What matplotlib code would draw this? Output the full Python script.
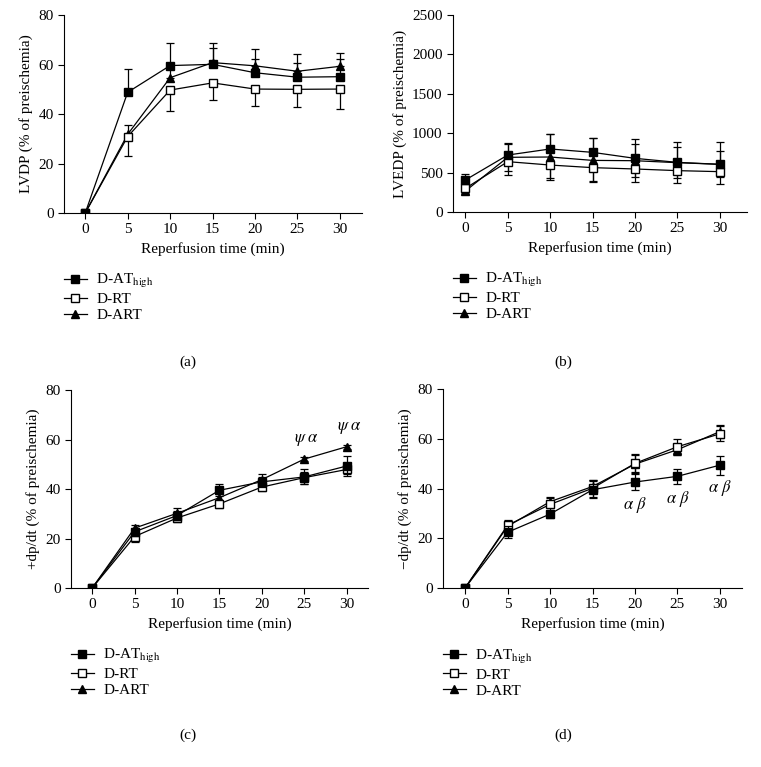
import matplotlib
matplotlib.use('Agg')
import matplotlib.pyplot as plt
from matplotlib.lines import Line2D

plt.rcParams['font.family'] = ['Liberation Serif', 'DejaVu Serif']
plt.rcParams['mathtext.fontset'] = 'stix'
plt.rcParams['font.size'] = 11

time = [0, 5, 10, 15, 20, 25, 30]
groups = ['D-AT$_{\\mathrm{high}}$', 'D-RT', 'D-ART']

# (a) LVDP
lvdp_at = [0, 48.8, 59.6, 60.1, 56.7, 54.9, 55.1]
lvdp_at_err = [0, 9.4, 9.0, 8.8, 5.6, 5.6, 7.0]
lvdp_rt = [0, 30.9, 49.7, 52.6, 50.1, 50.0, 50.1]
lvdp_rt_err = [0, 7.9, 8.3, 6.9, 7.0, 7.1, 8.2]
lvdp_art = [0, 31.8, 54.7, 60.8, 59.5, 57.3, 59.3]
lvdp_art_err = [0, 3.8, 4.0, 5.8, 6.7, 7.0, 5.5]

# (b) LVEDP
lvedp_at = [406, 723, 800, 757, 681, 630, 605]
lvedp_at_err = [76, 148, 190, 180, 245, 254, 279]
lvedp_rt = [300, 639, 596, 563, 546, 525, 512]
lvedp_rt_err = [60, 169, 160, 170, 161, 161, 157]
lvedp_art = [266, 694, 698, 655, 651, 626, 605]
lvedp_art_err = [40, 170, 290, 280, 212, 194, 165]

# (c) +dp/dt
pdp_at = [0, 22.7, 29.3, 39.5, 42.9, 44.9, 49.3]
pdp_at_err = [0, 1.5, 2.0, 2.4, 2.0, 3.0, 4.0]
pdp_rt = [0, 20.8, 28.3, 34.0, 40.8, 44.6, 47.9]
pdp_rt_err = [0, 2.4, 1.8, 1.5, 1.5, 2.4, 2.0]
pdp_art = [0, 24.2, 30.2, 36.5, 43.8, 52.1, 57.1]
pdp_art_err = [0, 1.2, 2.2, 1.5, 2.1, 0.8, 0.8]

# (d) -dp/dt
ndp_at = [0, 22.4, 29.7, 39.5, 42.6, 44.9, 49.4]
ndp_at_err = [0, 2.5, 1.5, 3.5, 3.2, 3.0, 3.8]
ndp_rt = [0, 25.2, 33.6, 40.1, 50.1, 56.8, 62.0]
ndp_rt_err = [0, 2.3, 2.5, 3.5, 3.6, 3.2, 3.0]
ndp_art = [0, 24.8, 34.7, 40.8, 49.8, 55.6, 62.9]
ndp_art_err = [0, 2.0, 1.8, 2.5, 3.5, 2.0, 2.5]

styles = [
    dict(marker='s', mfc='black', mec='black', ms=6),
    dict(marker='s', mfc='white', mec='black', ms=6),
    dict(marker='^', mfc='black', mec='black', ms=6),
]


def draw_panel(ax, series, errs, directions, ylim, yticks, ylabel, xlim):
    # triangles first so the squares sit on top
    for i in [2, 1, 0]:
        y, e = series[i], errs[i]
        zeros = [0] * len(e)
        if directions[i] == 'up':
            yerr = [zeros, e]
        elif directions[i] == 'down':
            yerr = [e, zeros]
        else:
            yerr = e
        ax.errorbar(time, y, yerr=yerr, color='black', lw=0.9, elinewidth=0.9,
                    capsize=3, capthick=0.9, zorder=3 + (2 - i), **styles[i])
    ax.set_xlim(*xlim)
    ax.set_ylim(*ylim)
    ax.set_xticks(time)
    ax.set_yticks(yticks)
    ax.set_xlabel('Reperfusion time (min)')
    ax.set_ylabel(ylabel)
    ax.spines['top'].set_visible(False)
    ax.spines['right'].set_visible(False)
    ax.tick_params(direction='out', length=4, width=0.8)
    handles = [Line2D([], [], color='black', lw=0.9, **styles[i]) for i in range(3)]
    ax.legend(handles, groups, loc='upper left', bbox_to_anchor=(0, -0.3),
              frameon=False, borderaxespad=0, borderpad=0, handlelength=1.5,
              handletextpad=0.6, labelspacing=0.15)


fig = plt.figure(figsize=(7.61, 7.67), dpi=100)
ax_a = fig.add_axes([0.0841, 0.7223, 0.3916, 0.258])
ax_b = fig.add_axes([0.5953, 0.7236, 0.3863, 0.2568])
ax_c = fig.add_axes([0.0933, 0.2334, 0.3900, 0.258])
ax_d = fig.add_axes([0.5821, 0.2334, 0.3930, 0.2594])

draw_panel(ax_a, [lvdp_at, lvdp_rt, lvdp_art], [lvdp_at_err, lvdp_rt_err, lvdp_art_err],
           ['up', 'down', 'up'], (0, 80), [0, 20, 40, 60, 80], 'LVDP (% of preischemia)',
           (-2.5, 32.6))
draw_panel(ax_b, [lvedp_at, lvedp_rt, lvedp_art], [lvedp_at_err, lvedp_rt_err, lvedp_art_err],
           ['up', 'down', 'both'], (0, 2500), [0, 500, 1000, 1500, 2000, 2500],
           'LVEDP (% of preischemia)', (-1.45, 33.2))
draw_panel(ax_c, [pdp_at, pdp_rt, pdp_art], [pdp_at_err, pdp_rt_err, pdp_art_err],
           ['both', 'both', 'both'], (0, 80), [0, 20, 40, 60, 80], '+dp/dt (% of preischemia)',
           (-2.5, 32.5))
draw_panel(ax_d, [ndp_at, ndp_rt, ndp_art], [ndp_at_err, ndp_rt_err, ndp_art_err],
           ['both', 'both', 'both'], (0, 80), [0, 20, 40, 60, 80], '\u2212dp/dt (% of preischemia)',
           (-2.6, 32.6))

# significance marks
for t, v in zip(time[5:], pdp_art[5:]):
    ax_c.annotate('$\\psi$ $\\alpha$', (t, v), xytext=(2, 8), textcoords='offset points',
                  ha='center', va='bottom', fontsize=12)
for t, v in zip(time[4:], ndp_at[4:]):
    ax_d.annotate('$\\alpha$ $\\beta$', (t, v), xytext=(0, -9), textcoords='offset points',
                  ha='center', va='top', fontsize=12)

for x, y, tag in [(0.247, 0.528, '(a)'), (0.74, 0.528, '(b)'),
                  (0.247, 0.042, '(c)'), (0.74, 0.042, '(d)')]:
    fig.text(x, y, tag, ha='center', va='center', fontsize=11)

fig.savefig('out.png', dpi=100)
